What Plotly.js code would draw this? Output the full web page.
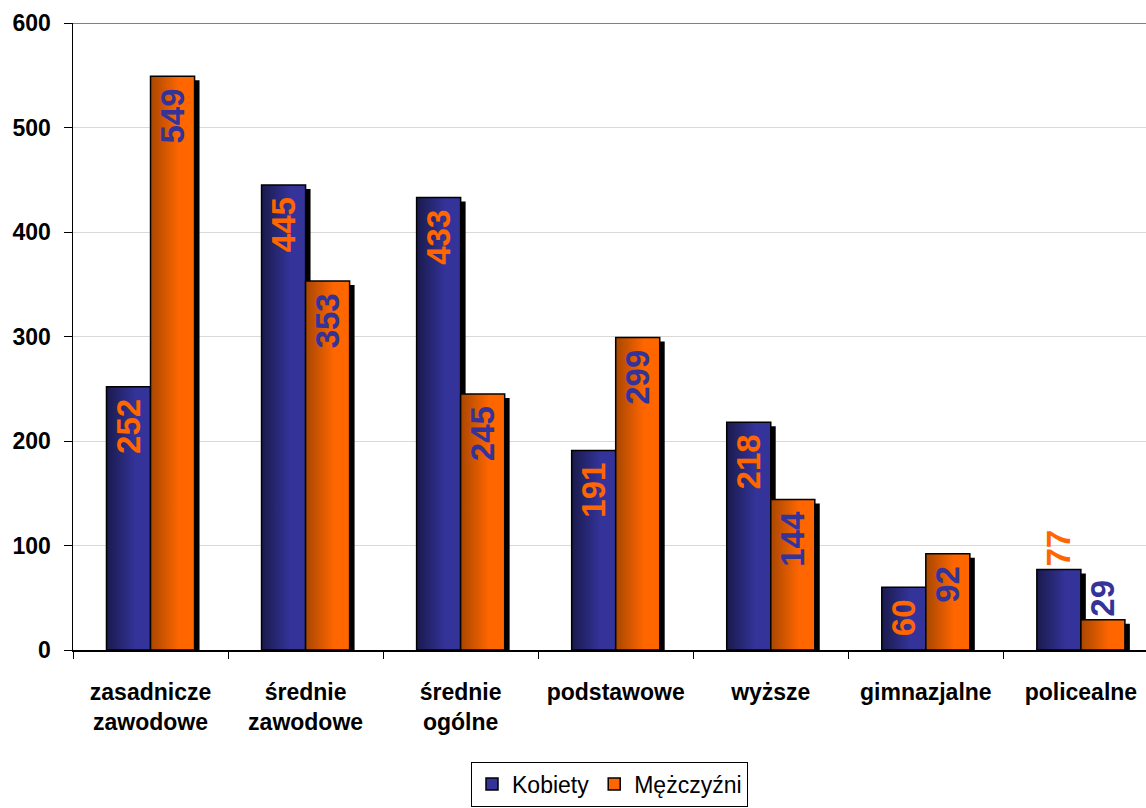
<!DOCTYPE html>
<html><head><meta charset="utf-8">
<script src="https://cdn.plot.ly/plotly-3.0.1.min.js"></script>
<style>html,body{margin:0;padding:0;background:#fff}#chart{width:1146px;height:808px}</style>
</head><body><div id="chart"></div>
<script>
const categories = ['zasadnicze<br>zawodowe', 'średnie<br>zawodowe', 'średnie<br>ogólne', 'podstawowe', 'wyższe', 'gimnazjalne', 'policealne'];
const kobiety = [252, 445, 433, 191, 218, 60, 77];
const mezczyzni = [549, 353, 245, 299, 144, 92, 29];
const seriesNames = ['Kobiety', 'Mężczyźni'];
const kobietyTextPos = ['inside', 'inside', 'inside', 'inside', 'inside', 'inside', 'outside'];
const mezczyzniTextPos = ['inside', 'inside', 'inside', 'inside', 'inside', 'inside', 'outside'];
const yTicks = [0, 100, 200, 300, 400, 500, 600];

const FONT = 'Liberation Sans, Arial, sans-serif';
const NAVY = '#333399', ORANGE = '#FF6600';
const W = 0.284, DX = 0.032, SHADOW_BASE = -3.8;

function shadow(vals, off) {
  return {type: 'bar', x: categories, y: vals, base: SHADOW_BASE, width: W, offset: off,
    marker: {color: '#000', line: {width: 0}}, showlegend: false, hoverinfo: 'skip'};
}
function label(v, pos) {
  // trailing space keeps the rotated label a little away from the bar top
  return String(v) + (pos === 'inside' ? '\u00a0' : '\u2009');
}
function series(name, vals, off, fill, txtColor, pos) {
  return {type: 'bar', name: name, x: categories, y: vals, width: W, offset: off,
    marker: {color: fill, line: {color: '#000', width: 1.5}},
    text: vals.map(function (v, i) { return label(v, pos[i]); }),
    textposition: pos, insidetextanchor: 'end', textangle: -90,
    constraintext: 'none', cliponaxis: false,
    textfont: {family: FONT, size: 33, weight: 'bold', color: txtColor}};
}

const data = [
  shadow(kobiety, -W + DX),
  shadow(mezczyzni, DX),
  series(seriesNames[0], kobiety, -W, NAVY, ORANGE, kobietyTextPos),
  series(seriesNames[1], mezczyzni, 0, ORANGE, NAVY, mezczyzniTextPos)
];

const layout = {
  width: 1146, height: 808,
  margin: {l: 73, r: 0, t: 23, b: 158, autoexpand: false},
  paper_bgcolor: '#fff', plot_bgcolor: '#fff',
  barmode: 'overlay',
  showlegend: true,
  font: {family: FONT, color: '#000'},
  xaxis: {type: 'category', range: [-0.5, 6.42], tickson: 'boundaries', ticks: 'outside', ticklen: 7,
    tickcolor: '#000', showline: true, linecolor: '#000', linewidth: 1.5, showgrid: false,
    ticklabelstandoff: 21,
    tickfont: {family: FONT, size: 23, weight: 'bold', color: '#000'}, automargin: false},
  yaxis: {range: [0, 600], tickvals: yTicks, ticks: 'outside', ticklen: 8, tickcolor: '#000',
    showline: true, linecolor: '#000', linewidth: 1.5, showgrid: true, gridcolor: '#d9d9d9', gridwidth: 1,
    zeroline: false, ticklabelstandoff: 8,
    tickfont: {family: FONT, size: 23, weight: 'bold', color: '#000'}, automargin: false},
  shapes: [{type: 'line', xref: 'x domain', yref: 'y', x0: 0, x1: 1, y0: 600, y1: 600,
    line: {color: '#808080', width: 2}}],
  legend: {orientation: 'h', x: 0.5, xanchor: 'center', y: -0.178, yanchor: 'top',
    bordercolor: '#000', borderwidth: 1, bgcolor: '#fff',
    font: {family: FONT, size: 23, color: '#000'}, traceorder: 'normal'}
};

Plotly.newPlot('chart', data, layout, {staticPlot: true}).then(function (gd) {
  const svg = gd.querySelector('.main-svg');
  const ns = 'http://www.w3.org/2000/svg';
  let defs = svg.querySelector('defs');
  function grad(id, c0, c1) {
    const g = document.createElementNS(ns, 'linearGradient');
    g.setAttribute('id', id); g.setAttribute('x1', '0'); g.setAttribute('x2', '1');
    g.setAttribute('y1', '0'); g.setAttribute('y2', '0');
    [[0, c0], [0.65, c1], [1, c1]].forEach(function (s) {
      const st = document.createElementNS(ns, 'stop');
      st.setAttribute('offset', s[0]); st.setAttribute('stop-color', s[1]);
      g.appendChild(st);
    });
    defs.appendChild(g);
  }
  grad('gradK', '#1a1a4d', NAVY);
  grad('gradM', '#A84700', ORANGE);
  const traces = gd.querySelectorAll('.barlayer .trace.bars');
  const ids = [null, null, 'gradK', 'gradM'];
  traces.forEach(function (t, i) {
    if (!ids[i]) return;
    t.querySelectorAll('.point path').forEach(function (p) { p.style.fill = 'url(#' + ids[i] + ')'; });
  });
});
</script>
</body></html>
